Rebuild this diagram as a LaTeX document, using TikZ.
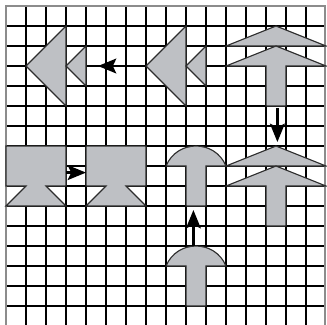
\documentclass[tikz,border=0pt]{standalone}
\usetikzlibrary{arrows.meta}
\definecolor{shapegray}{RGB}{190,192,196}
\definecolor{edgegray}{RGB}{45,45,45}
\definecolor{bordergray}{RGB}{140,140,140}
\tikzset{
  gridline/.style={line width=1.5pt, black},
  borderline/.style={line width=0.8pt, bordergray},
  figshape/.style={fill=shapegray, draw=edgegray, line width=0.8pt, line join=miter},
  conn/.style={line width=1.8pt, black, -{Stealth[length=13pt, width=10.5pt, inset=2.5pt]}}
}
\begin{document}
\begin{tikzpicture}[x=0.5cm, y=-0.5cm]
\useasboundingbox (-0.3,-0.3) rectangle (16.05,15.9);
\clip (-0.3,-0.3) rectangle (16.05,15.9);
% grid
\foreach \c in {1,...,15} \draw[gridline] (\c,0) -- (\c,16);
\foreach \r in {1,...,15} \draw[gridline] (0,\r) -- (15.95,\r);
\draw[borderline] (0,16) -- (0,0) -- (15.95,0) -- (15.95,16);
% top-left arrow figure
\draw[figshape] (1,3) -- (3,1) -- (3,5) -- cycle;
\draw[figshape] (3,3) -- (4,2) -- (4,4) -- cycle;
% second arrow figure
\draw[figshape] (7,3) -- (9,1) -- (9,5) -- cycle;
\draw[figshape] (9,3) -- (10,2) -- (10,4) -- cycle;
% top-right up figure
\draw[figshape] (11,2) -- (13.5,1) -- (16,2) -- cycle;
\draw[figshape] (11,3) -- (13.5,2) -- (16,3) -- (14,3) -- (14,5) -- (13,5) -- (13,3) -- cycle;
% middle-right up figure
\draw[figshape] (11,8) -- (13.5,7) -- (16,8) -- cycle;
\draw[figshape] (11,9) -- (13.5,8) -- (16,9) -- (14,9) -- (14,11) -- (13,11) -- (13,9) -- cycle;
% pedestal figures
\draw[figshape] (0,7) -- (3,7) -- (3,9) -- (2,9) -- (3,10) -- (0,10) -- (1,9) -- (0,9) -- cycle;
\draw[figshape] (4,7) -- (7,7) -- (7,9) -- (6,9) -- (7,10) -- (4,10) -- (5,9) -- (4,9) -- cycle;
% mushrooms
\draw[figshape] (8,8) .. controls (8.555,6.667) and (10.445,6.667) .. (11,8) -- (10,8) -- (10,10) -- (9,10) -- (9,8) -- cycle;
\draw[figshape] (8,13) .. controls (8.555,11.667) and (10.445,11.667) .. (11,13) -- (10,13) -- (10,15) -- (9,15) -- (9,13) -- cycle;
% connector end points
\coordinate (a1s) at (6.3,3);
\coordinate (a1e) at (4.6,3);
\coordinate (a2s) at (3,8.33);
\coordinate (a2e) at (4,8.33);
\coordinate (a3s) at (9.37,12);
\coordinate (a3e) at (9.37,10.2);
\coordinate (a4s) at (13.57,5.1);
\coordinate (a4e) at (13.57,6.8);
\draw[conn] (a1s) -- (a1e);
\draw[conn] (a2s) -- (a2e);
\draw[conn] (a3s) -- (a3e);
\draw[conn] (a4s) -- (a4e);
\end{tikzpicture}
\end{document}
